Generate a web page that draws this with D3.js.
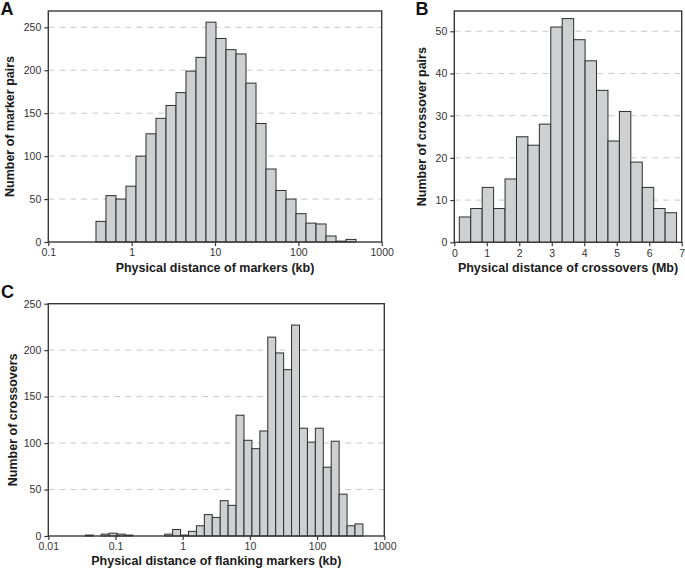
<!DOCTYPE html>
<html>
<head>
<meta charset="utf-8">
<script src="https://cdn.jsdelivr.net/npm/d3@7"></script>
<style>
  html, body { margin: 0; padding: 0; background: #fff; }
  svg { display: block; }
  text { font-family: "Liberation Sans", Arial, Helvetica, sans-serif; }
</style>
</head>
<body>
<svg id="chart" width="685" height="569"></svg>
<script>
// ---------- DATA ----------
// Panel A: physical distance of markers (kb), log10-spaced bins
const aBinStartLog = -0.428;
const aBinWidthLog = 0.12;
const aCounts = [24, 54, 50, 65, 100, 126, 144, 159, 174, 199, 215, 256, 237, 224, 219, 185, 138, 85, 60, 50, 33, 22, 21, 7, 1, 3];
const aXTicks = [0.1, 1, 10, 100, 1000];
const aYTicks = [0, 50, 100, 150, 200, 250];

// Panel B: physical distance of crossovers (Mb), linear bins
const bBinStart = 0.154;
const bBinWidth = 0.352;
const bCounts = [6, 8, 13, 8, 15, 25, 23, 28, 51, 53, 48, 43, 36, 24, 31, 19, 13, 8, 7];
const bXTicks = [0, 1, 2, 3, 4, 5, 6, 7];
const bYTicks = [0, 10, 20, 30, 40, 50];

// Panel C: physical distance of flanking markers (kb), log10-spaced bins
const cBinStartLog = -1.448;
const cBinWidthLog = 0.118;
const cCounts = [1, 0, 2, 3, 2, 1, 0, 0, 0, 0, 2, 7, 1, 5, 11, 23, 20, 38, 33, 130, 103, 94, 113, 214, 197, 179, 227, 116, 101, 116, 74, 102, 45, 11, 13];
const cXTicks = [0.01, 0.1, 1, 10, 100, 1000];
const cYTicks = [0, 50, 100, 150, 200, 250];

const labels = {
  A: { letter: "A", x: "Physical distance of markers (kb)", y: "Number of marker pairs" },
  B: { letter: "B", x: "Physical distance of crossovers (Mb)", y: "Number of crossover pairs" },
  C: { letter: "C", x: "Physical distance of flanking markers (kb)", y: "Number of crossovers" }
};

// ---------- DRAW ----------
const svg = d3.select("#chart");
const fmt = d3.format("~g");

function binsLog(start, w, counts) {
  return counts.map((c, i) => ({ lo: Math.pow(10, start + i * w), hi: Math.pow(10, start + (i + 1) * w), c }));
}
function binsLin(start, w, counts) {
  return counts.map((c, i) => ({ lo: start + i * w, hi: start + (i + 1) * w, c }));
}

function panel(cfg) {
  const { left, right, top, bottom } = cfg.box;
  const g = svg.append("g");
  const x = cfg.xScale.range([left, right]);
  const y = d3.scaleLinear().domain(cfg.yDomain).range([bottom, top]);

  // gridlines
  g.append("g").selectAll("line")
    .data(cfg.yTicks.filter(t => t > 0 && Math.abs(y(t) - top) > 1))
    .join("line")
    .attr("x1", left).attr("x2", right)
    .attr("y1", d => y(d)).attr("y2", d => y(d))
    .attr("stroke", "#c9c9c9").attr("stroke-width", 1)
    .attr("stroke-dasharray", "6,5");

  // bars
  g.append("g").selectAll("rect")
    .data(cfg.bins.filter(b => b.c > 0))
    .join("rect")
    .attr("x", d => x(d.lo))
    .attr("width", d => x(d.hi) - x(d.lo))
    .attr("y", d => y(d.c))
    .attr("height", d => y(0) - y(d.c))
    .attr("fill", "#cfd0d1")
    .attr("stroke", "#2e2e2e")
    .attr("stroke-width", 1);

  // axes
  const xAxis = d3.axisBottom(x).tickValues(cfg.xTicks).tickFormat(fmt)
    .tickSizeInner(4).tickSizeOuter(0).tickPadding(3);
  const yAxis = d3.axisLeft(y).tickValues(cfg.yTicks).tickFormat(fmt)
    .tickSizeInner(4).tickSizeOuter(0).tickPadding(3);
  const gx = g.append("g").attr("transform", `translate(0,${bottom})`).call(xAxis);
  const gy = g.append("g").attr("transform", `translate(${left},0)`).call(yAxis);
  [gx, gy].forEach(a => {
    a.select(".domain").remove();
    a.selectAll("line").attr("stroke", "#3a3a3a").attr("stroke-width", 1.2);
    a.selectAll("text").attr("fill", "#333").style("font-size", "10.5px")
      .style("font-family", '"Liberation Sans", Arial, sans-serif');
  });

  // frame
  g.append("rect")
    .attr("x", left).attr("y", top)
    .attr("width", right - left).attr("height", bottom - top)
    .attr("fill", "none").attr("stroke", "#3a3a3a").attr("stroke-width", 1.4);

  // titles
  g.append("text")
    .attr("x", (left + right) / 2).attr("y", cfg.xTitleY)
    .attr("text-anchor", "middle")
    .attr("font-weight", "bold").attr("font-size", "12.5px").attr("fill", "#1a1a1a")
    .text(cfg.lab.x);
  g.append("text")
    .attr("transform", `translate(${cfg.yTitleX},${(top + bottom) / 2}) rotate(-90)`)
    .attr("text-anchor", "middle")
    .attr("font-weight", "bold").attr("font-size", "12.5px").attr("fill", "#1a1a1a")
    .text(cfg.lab.y);
  g.append("text")
    .attr("x", cfg.letterPos[0]).attr("y", cfg.letterPos[1])
    .attr("font-weight", "bold").attr("font-size", "18px").attr("fill", "#111")
    .text(cfg.lab.letter);
}

panel({
  box: { left: 48.3, right: 381.7, top: 11, bottom: 242 },
  xScale: d3.scaleLog().domain([0.1, 1000]),
  yDomain: [0, 269],
  xTicks: aXTicks, yTicks: aYTicks,
  bins: binsLog(aBinStartLog, aBinWidthLog, aCounts),
  lab: labels.A, xTitleY: 271.5, yTitleX: 14, letterPos: [0.5, 14.5]
});

panel({
  box: { left: 454.3, right: 681.7, top: 11, bottom: 242.3 },
  xScale: d3.scaleLinear().domain([0, 7]),
  yDomain: [0, 54.8],
  xTicks: bXTicks, yTicks: bYTicks,
  bins: binsLin(bBinStart, bBinWidth, bCounts),
  lab: labels.B, xTitleY: 272, yTitleX: 426, letterPos: [415.5, 14.5]
});

panel({
  box: { left: 48.3, right: 384.3, top: 303.7, bottom: 536 },
  xScale: d3.scaleLog().domain([0.01, 1000]),
  yDomain: [0, 250],
  xTicks: cXTicks, yTicks: cYTicks,
  bins: binsLog(cBinStartLog, cBinWidthLog, cCounts),
  lab: labels.C, xTitleY: 565, yTitleX: 17, letterPos: [1, 298]
});
</script>
</body>
</html>
